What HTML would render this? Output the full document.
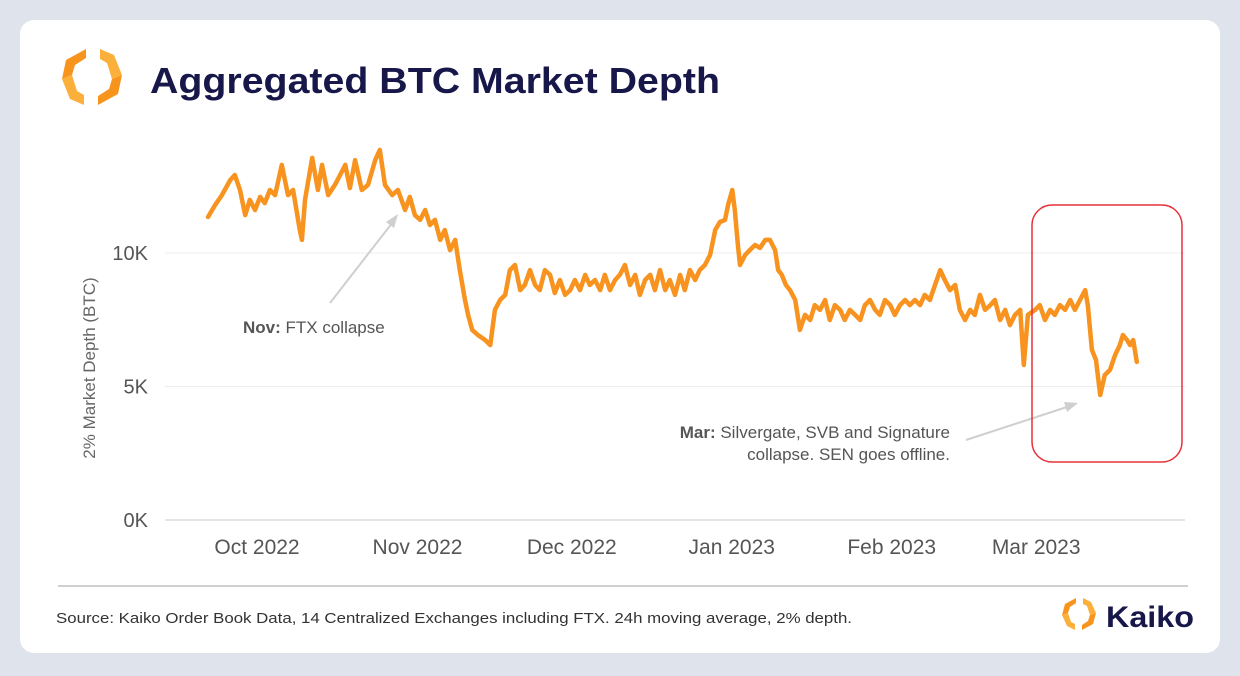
<!DOCTYPE html>
<html><head><meta charset="utf-8"><style>
html,body{margin:0;padding:0;width:1240px;height:676px;background:#dfe4ec;overflow:hidden;font-family:"Liberation Sans",sans-serif}
#card{position:absolute;left:20px;top:20px;width:1200px;height:633px;background:#fff;border-radius:14px}
</style></head><body>
<div id="card"></div>
<svg id="chart" width="1240" height="676" style="position:absolute;left:0;top:0">
 <g transform="translate(92,77)">
  <polygon points="-6,-28 -26,-17 -30,2 -20,-2 -17,-12 -6,-19" fill="#f7941d"/>
  <polygon points="-30,2 -22,22 -8,28 -8,18 -15,14 -20,-2" fill="#fbb03b"/>
  <polygon points="6,28 26,17 30,-2 20,2 17,12 6,19" fill="#f7941d"/>
  <polygon points="30,-2 22,-22 8,-28 8,-18 15,-14 20,2" fill="#fbb03b"/>
 </g>
 <text x="150" y="93" font-size="36" font-weight="bold" fill="#17174a" textLength="570" lengthAdjust="spacingAndGlyphs">Aggregated BTC Market Depth</text>
 <g id="grid"></g>
 <g id="yticks"></g>
 <g id="xticks"></g>
 <text transform="translate(95,368) rotate(-90)" text-anchor="middle" font-size="17" fill="#666">2% Market Depth (BTC)</text>
 <path id="series" fill="none" stroke="#f7931e" stroke-width="4.5" stroke-linejoin="round" stroke-linecap="round"/>
 <line x1="330" y1="303" x2="396" y2="218" stroke="#cfcfcf" stroke-width="2"/>
 <polygon points="398,214 386,222 394,228" fill="#cfcfcf"/>
 <text x="243" y="333" font-size="17" fill="#555"><tspan font-weight="bold">Nov:</tspan> FTX collapse</text>
 <line x1="966" y1="440" x2="1070" y2="406" stroke="#cfcfcf" stroke-width="2"/>
 <polygon points="1078,403 1064,402 1067,412" fill="#cfcfcf"/>
 <text x="950" y="438" text-anchor="end" font-size="17" fill="#555"><tspan font-weight="bold">Mar:</tspan> Silvergate, SVB and Signature</text>
 <text x="950" y="460" text-anchor="end" font-size="17" fill="#555">collapse. SEN goes offline.</text>
 <rect x="1032" y="205" width="150" height="257" rx="20" fill="none" stroke="#e8303a" stroke-width="1.5"/>
 <line x1="58" y1="586" x2="1188" y2="586" stroke="#d0d0d0" stroke-width="2"/>
 <text x="56" y="623" font-size="14.5" fill="#333" textLength="796" lengthAdjust="spacingAndGlyphs">Source: Kaiko Order Book Data, 14 Centralized Exchanges including FTX. 24h moving average, 2% depth.</text>
 <g transform="translate(1079,614)">
  <polygon points="-3,-16 -14,-10 -17,1 -11,-1 -9,-7 -3,-11" fill="#f7941d"/>
  <polygon points="-17,1 -12,12 -4,16 -4,10 -8,8 -11,-1" fill="#fbb03b"/>
  <polygon points="3,16 14,10 17,-1 11,1 9,7 3,11" fill="#f7941d"/>
  <polygon points="17,-1 12,-12 4,-16 4,-10 8,-8 11,1" fill="#fbb03b"/>
 </g>
 <text x="1106" y="627" font-size="30" font-weight="bold" fill="#17174a" textLength="88" lengthAdjust="spacingAndGlyphs">Kaiko</text>
</svg>
<script>
const yTickValues=[0,5,10];
const yTickLabels=["0K","5K","10K"];
const monthDays=[9.5,40.6,70.5,101.5,132.5,160.5];
const monthLabels=["Oct 2022","Nov 2022","Dec 2022","Jan 2023","Feb 2023","Mar 2023"];
const days=[0,1.4,2.7,4.3,5.2,6.2,7.2,8.1,9.1,10.1,11.0,12.0,13.0,14.3,15.5,16.5,17.8,18.2,18.8,20.2,21.3,22.1,23.3,24.6,25.6,26.6,27.5,28.5,29.8,31.0,32.4,33.3,34.3,35.7,36.8,38.2,39.1,40.1,41.1,42.1,43.0,44.0,45.0,45.9,46.9,47.9,48.8,49.8,50.4,51.2,52.3,53.7,54.7,55.6,56.6,57.6,58.5,59.5,60.5,61.4,62.4,63.4,64.3,65.3,66.3,67.2,68.2,69.2,70.2,71.1,72.1,73.1,74.0,75.0,76.0,76.9,77.9,78.9,79.8,80.8,81.8,82.8,83.7,84.7,85.7,86.6,87.6,88.6,89.5,90.5,91.5,92.4,93.4,94.4,95.3,96.3,97.3,98.3,99.2,100.2,100.8,101.6,102.1,102.7,103.1,104.1,105.0,106.0,107.0,108.0,108.9,109.9,110.5,111.2,112.0,112.8,113.8,114.7,115.7,116.7,117.6,118.6,119.6,120.5,121.5,122.5,123.4,124.4,125.4,126.4,127.3,128.3,129.3,130.2,131.2,132.2,133.1,134.1,135.1,136.0,137.0,138.0,138.9,139.9,140.9,141.9,142.8,143.8,144.8,145.7,146.7,147.7,148.6,149.6,150.6,151.6,152.5,153.5,154.5,155.4,156.4,157.4,158.1,158.9,160.3,161.2,162.2,163.2,164.1,165.1,166.1,167.1,168.0,169.0,170.0,170.5,171.3,172.1,172.9,173.8,174.8,175.8,176.7,177.3,178.1,178.7,179.3,180.0];
const depthK=[11.35,11.8,12.17,12.73,12.92,12.36,11.42,11.99,11.61,12.1,11.87,12.36,12.17,13.3,12.17,12.36,10.86,10.49,11.99,13.56,12.36,13.3,12.17,12.55,12.92,13.3,12.43,13.48,12.36,12.55,13.48,13.86,12.55,12.17,12.36,11.61,12.1,11.42,11.24,11.61,11.05,11.24,10.49,10.86,10.11,10.49,9.36,8.24,7.68,7.12,6.93,6.74,6.55,7.87,8.24,8.43,9.36,9.55,8.61,8.8,9.36,8.8,8.61,9.36,9.18,8.5,8.99,8.43,8.61,8.99,8.61,9.18,8.8,8.99,8.61,9.18,8.61,8.99,9.18,9.55,8.8,9.18,8.43,8.99,9.18,8.61,9.36,8.61,8.99,8.43,9.18,8.61,9.36,8.99,9.36,9.55,9.93,10.86,11.16,11.24,11.8,12.36,11.61,10.3,9.55,9.93,10.11,10.3,10.19,10.49,10.49,10.11,9.36,9.18,8.8,8.61,8.24,7.12,7.68,7.49,8.05,7.87,8.24,7.49,8.05,7.87,7.49,7.87,7.68,7.49,8.05,8.24,7.87,7.68,8.24,8.05,7.68,8.05,8.24,8.05,8.24,8.05,8.43,8.24,8.8,9.36,8.99,8.61,8.8,7.87,7.49,7.87,7.68,8.43,7.87,8.05,8.24,7.49,7.87,7.3,7.68,7.87,5.81,7.68,7.87,8.05,7.49,7.87,7.68,8.05,7.87,8.24,7.87,8.24,8.61,8.05,6.37,5.99,4.68,5.43,5.62,6.18,6.55,6.93,6.74,6.55,6.74,5.92];
const NS="http://www.w3.org/2000/svg";
const xScale=d=>208+d*5.16;
const yScale=v=>520-v*26.7;
const grid=document.getElementById('grid'),yt=document.getElementById('yticks'),xt=document.getElementById('xticks');
yTickValues.forEach((v,i)=>{
 const l=document.createElementNS(NS,'line');
 l.setAttribute('x1',165);l.setAttribute('x2',1185);l.setAttribute('y1',yScale(v));l.setAttribute('y2',yScale(v));
 l.setAttribute('stroke',v===0?'#dcdcdc':'#ececec');l.setAttribute('stroke-width',v===0?1.5:1);
 
 
 grid.appendChild(l);
 const t=document.createElementNS(NS,'text');
 t.setAttribute('x',148);t.setAttribute('y',yScale(v)+7);t.setAttribute('text-anchor','end');
 t.setAttribute('font-size','20');t.setAttribute('fill','#555');t.textContent=yTickLabels[i];
 
 
 yt.appendChild(t);
});
monthDays.forEach((d,i)=>{
 const t=document.createElementNS(NS,'text');
 t.setAttribute('x',xScale(d));t.setAttribute('y',554);t.setAttribute('text-anchor','middle');
 t.setAttribute('font-size','21');t.setAttribute('fill','#555');t.textContent=monthLabels[i];
 
 
 xt.appendChild(t);
});
document.getElementById('series').setAttribute('d',days.map((d,i)=>(i?'L':'M')+xScale(d).toFixed(1)+','+yScale(depthK[i]).toFixed(1)).join(''));
</script>
</body></html>
